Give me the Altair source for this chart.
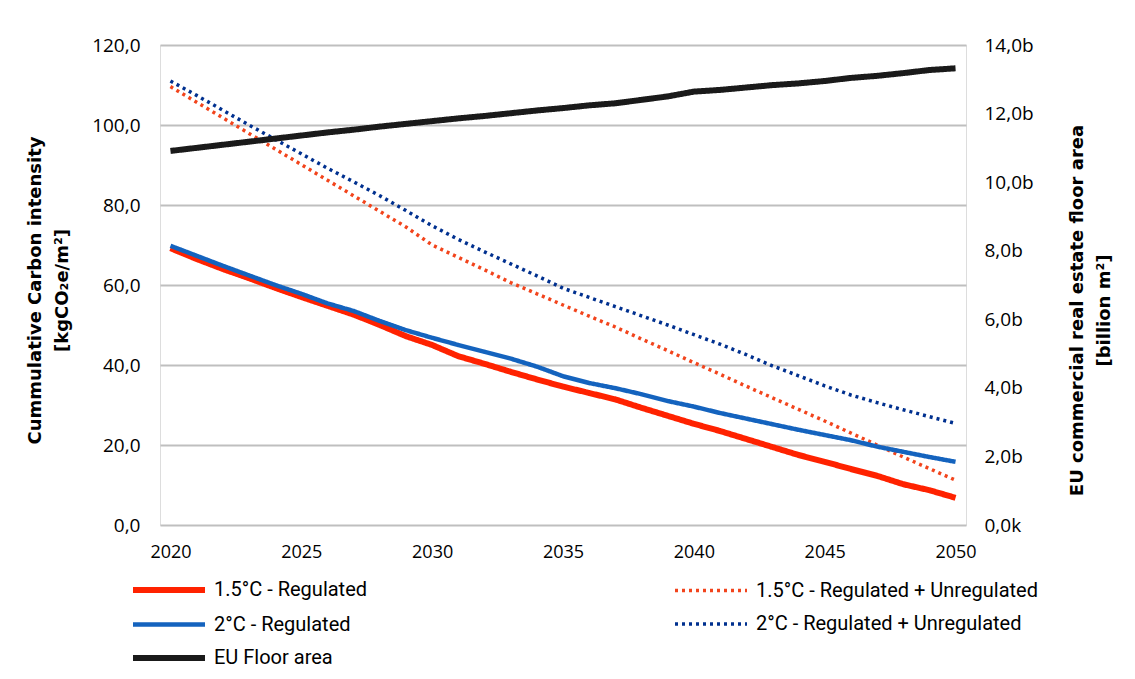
import altair as alt
import pandas as pd

years = list(range(2020, 2051))

reg_15 = [69.2, 66.5, 64.0, 61.7, 59.3, 57.0, 54.8, 52.6, 50.0, 47.2, 45.0,
          42.2, 40.3, 38.3, 36.4, 34.6, 33.0, 31.4, 29.3, 27.3, 25.3,
          23.5, 21.5, 19.5, 17.5, 15.8, 14.0, 12.3, 10.2, 8.7, 6.8]
unreg_15 = [109.6, 105.7, 101.8, 97.9, 94.0, 90.1, 86.2, 82.3, 78.4, 74.5, 70.0,
            66.9, 63.8, 60.6, 57.8, 55.0, 52.2, 49.5, 46.5, 43.6, 40.6,
            37.7, 34.7, 31.8, 28.9, 26.0, 23.0, 20.0, 17.0, 14.1, 11.2]
reg_2 = [69.8, 67.3, 64.8, 62.4, 60.0, 57.8, 55.4, 53.5, 51.0, 48.7, 46.8,
         45.0, 43.3, 41.6, 39.6, 37.2, 35.5, 34.2, 32.7, 31.0, 29.6,
         28.0, 26.6, 25.2, 23.8, 22.5, 21.2, 19.6, 18.3, 17.0, 15.8]
unreg_2 = [111.0, 107.4, 103.7, 100.0, 96.4, 92.8, 89.2, 85.8, 82.3, 78.6, 74.8,
           71.4, 68.3, 65.3, 62.3, 59.2, 56.9, 54.6, 52.3, 50.0, 47.6,
           45.2, 42.6, 39.8, 37.3, 34.8, 32.5, 30.6, 28.8, 27.1, 25.4]
floor_area = [10.91, 11.00, 11.09, 11.18, 11.27, 11.36, 11.45, 11.53, 11.62, 11.70, 11.78,
              11.86, 11.93, 12.01, 12.09, 12.16, 12.24, 12.30, 12.40, 12.50, 12.64,
              12.69, 12.76, 12.83, 12.88, 12.95, 13.04, 13.10, 13.18, 13.27, 13.32]

series_names = ["1.5°C - Regulated", "1.5°C - Regulated + Unregulated",
                "2°C - Regulated", "2°C - Regulated + Unregulated", "EU Floor area"]
series_colors = ["#FF2200", "#F2441C", "#1463BE", "#00308F", "#1A1A1A"]
series_dash = [[1, 0], [3, 4], [1, 0], [3, 4], [1, 0]]
series_width = [6, 3.5, 4.5, 3.5, 6]

rows = []
for name, vals in zip(series_names[:4], [reg_15, unreg_15, reg_2, unreg_2]):
    for y, v in zip(years, vals):
        rows.append({"year": y, "series": name, "value": v})
df_left = pd.DataFrame(rows)
df_right = pd.DataFrame({"year": years, "series": series_names[4], "value": floor_area})

FONT = "Open Sans"
TITLE_FONT = "DejaVu Sans"
LEG_FONT = "Roboto"

x_enc = alt.X("year:Q",
              scale=alt.Scale(domain=[2019.6, 2050.4], nice=False, zero=False),
              axis=alt.Axis(values=[2020, 2025, 2030, 2035, 2040, 2045, 2050],
                            format="d", title=None, grid=False, domain=False,
                            ticks=False, labelPadding=18, labelFontSize=18,
                            labelFont=FONT, labelColor="#000"))

color_enc = alt.Color("series:N",
                      scale=alt.Scale(domain=series_names, range=series_colors),
                      legend=alt.Legend(title=None, orient="none", legendX=22, legendY=532,
                                        direction="horizontal",
                                        columns=2, columnPadding=300, rowPadding=10,
                                        symbolType="M-6.2,0H1", symbolSize=400,
                                        labelFont=LEG_FONT, labelFontSize=20,
                                        labelColor="#000", labelOffset=6,
                                        labelLimit=400))
dash_enc = alt.StrokeDash("series:N",
                          scale=alt.Scale(domain=series_names, range=series_dash),
                          legend=alt.Legend(title=None))
width_enc = alt.StrokeWidth("series:N",
                            scale=alt.Scale(type="ordinal", domain=series_names, range=series_width),
                            legend=alt.Legend(title=None))

left = alt.Chart(df_left).mark_line().encode(
    x=x_enc,
    y=alt.Y("value:Q",
            scale=alt.Scale(domain=[0, 120], nice=False),
            axis=alt.Axis(values=[0, 20, 40, 60, 80, 100, 120],
                          labelExpr="replace(format(datum.value, '.1f'), '.', ',')",
                          title=["Cummulative Carbon intensity", "[kgCO₂e/m²]"],
                          titleFont=TITLE_FONT, titleFontSize=18, titleFontWeight="bold",
                          titleColor="#000", titlePadding=20, titleLineHeight=27,
                          titleY=245,
                          labelFont=FONT, labelFontSize=19, labelColor="#000",
                          labelPadding=20, ticks=False, domain=False,
                          grid=True, gridColor="#BFBFBF", gridWidth=2)),
    color=color_enc,
    strokeDash=dash_enc,
    strokeWidth=width_enc,
)

right = alt.Chart(df_right).mark_line().encode(
    x=x_enc,
    y=alt.Y("value:Q",
            scale=alt.Scale(domain=[0, 14], nice=False),
            axis=alt.Axis(orient="right", values=[0, 2, 4, 6, 8, 10, 12, 14],
                          labelExpr="datum.value == 0 ? '0,0k' : replace(format(datum.value, '.1f'), '.', ',') + 'b'",
                          title=["EU commercial real estate floor area", "[billion m²]"],
                          titleAngle=270, titleY=265,
                          titleFont=TITLE_FONT, titleFontSize=18, titleFontWeight="bold",
                          titleColor="#000", titlePadding=26, titleLineHeight=27,
                          labelFont=FONT, labelFontSize=19, labelColor="#000",
                          labelPadding=18, ticks=False, domain=False, grid=False)),
    color=color_enc,
    strokeDash=dash_enc,
    strokeWidth=width_enc,
)

chart = alt.layer(left, right).resolve_scale(y="independent").properties(
    width=806, height=480,
    autosize=alt.AutoSizeParams(type="none"),
    padding={"left": 152, "top": 37, "right": 160, "bottom": 150},
).configure_view(stroke=None).configure(background="white")

chart.save("out.html", embed_options={"renderer": "svg", "actions": False})
